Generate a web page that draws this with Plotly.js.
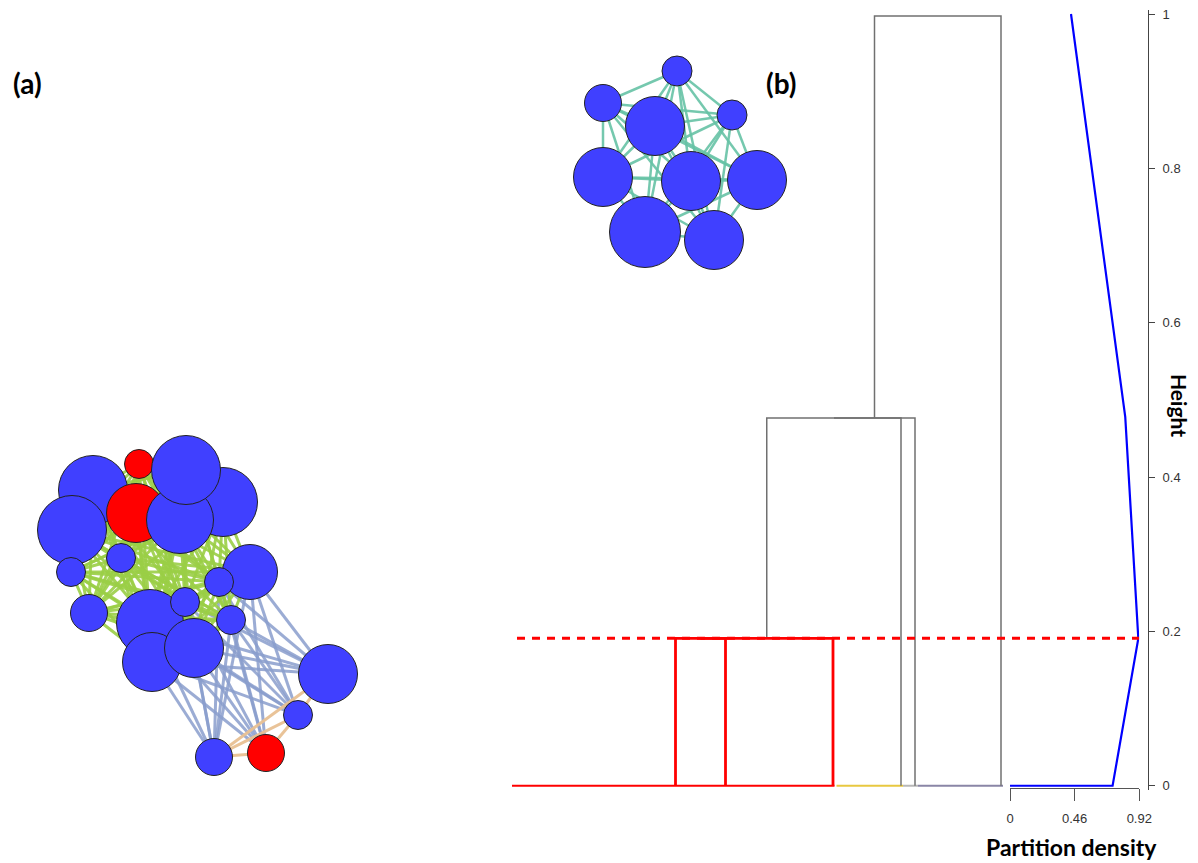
<!DOCTYPE html>
<html>
<head>
<meta charset="utf-8">
<script src="https://cdn.plot.ly/plotly-3.0.1.min.js"></script>
<style>html,body{margin:0;padding:0;background:#fff;}#chart{width:1198px;height:863px;}</style>
</head>
<body>
<div id="chart"></div>
<script>
// ---------- Network (a): nodes, listed back-to-front ----------
const netA_id    = [2, 7, 1, 5, 4, 6, 3, 8, 9, 10, 11, 12, 14, 13, 15, 16, 17, 18, 19, 20, 21];
const netA_x     = [93, 72, 139, 136, 223, 180, 186, 121, 71, 250, 219, 89, 150, 185, 231, 152, 194, 328, 298, 266, 214];
const netA_y     = [490, 530, 464, 513, 502, 520, 470, 558, 572, 572, 582, 613, 623, 602, 620, 662, 648, 674, 715, 753, 757];
const netA_size  = [69, 69, 29, 59, 69, 67, 69, 29, 29, 55, 29, 37, 67, 29, 29, 59, 59, 59, 29, 37, 37];
const netA_group = ['b','b','r','r','b','b','b','b','b','b','b','b','b','b','b','b','b','b','b','r','b'];

// green community edges (node ids)
const greenEdges = [
 [1,2],[1,3],[1,4],[1,5],[1,6],[1,7],[1,8],[1,9],[1,10],[1,12],[1,13],[1,14],[1,15],[1,17],
 [2,3],[2,4],[2,5],[2,6],[2,7],[2,8],[2,9],[2,11],[2,12],[2,13],[2,14],[2,15],[2,16],[2,17],
 [3,4],[3,5],[3,6],[3,7],[3,8],[3,9],[3,10],[3,11],[3,12],[3,13],[3,14],[3,15],[3,16],
 [4,5],[4,6],[4,7],[4,8],[4,9],[4,10],[4,11],[4,12],[4,13],[4,14],[4,15],[4,17],
 [5,6],[5,7],[5,8],[5,9],[5,10],[5,11],[5,12],[5,13],[5,14],[5,16],[5,17],
 [6,7],[6,8],[6,9],[6,10],[6,11],[6,12],[6,13],[6,14],[6,15],[6,16],[6,17],
 [7,8],[7,9],[7,10],[7,11],[7,12],[7,13],[7,14],[7,15],[7,17],
 [8,9],[8,10],[8,11],[8,12],[8,13],[8,14],[8,15],[8,16],[8,17],
 [9,10],[9,11],[9,12],[9,13],[9,14],[9,15],[9,16],[9,17],
 [10,11],[10,12],[10,13],[10,14],[10,15],[10,16],[10,17],
 [11,12],[11,13],[11,14],[11,15],[11,16],[11,17],
 [12,13],[12,14],[12,15],[12,16],[12,17],
 [13,14],[13,15],[13,16],[13,17],[14,15],[14,17],[15,16],[15,17],[16,17]
];
// between-community edges
const bridgeEdges = [
 [18,10],[18,11],[18,13],[18,14],[18,15],[18,16],[18,17],
 [19,10],[19,11],[19,13],[19,14],[19,15],[19,16],[19,17],
 [20,10],[20,11],[20,13],[20,14],[20,15],[20,16],[20,17],
 [21,10],[21,11],[21,13],[21,14],[21,15],[21,16],[21,17]
];
// small community edges
const tanEdges = [[21,20],[21,19],[21,18],[20,19],[19,18]];

// ---------- Inset network (b) ----------
const netB_id   = [1, 2, 3, 4, 5, 6, 7, 8, 9];
const netB_x    = [677, 603, 732, 655, 603, 691, 757, 645, 714];
const netB_y    = [71, 103, 115, 126, 177, 181, 180, 232, 240];
const netB_size = [30, 37, 30, 59, 59, 59, 59, 71, 59];
const tealEdges = [
 [1,2],[1,3],[1,4],[1,5],[1,6],[1,7],[1,8],[1,9],
 [2,3],[2,4],[2,5],[2,6],[2,7],[2,8],[2,9],
 [3,4],[3,5],[3,6],[3,7],[3,8],[3,9],
 [4,5],[4,6],[4,7],[4,8],[4,9],
 [5,6],[5,7],[5,8],[5,9],
 [6,7],[6,8],[6,9],
 [7,8],[7,9],[8,9]
];

// ---------- Dendrogram (b) ----------
const linkLeftX     = [35.1, 40.1, 53.35, 66.8, 74.9];
const linkRightX    = [45.1, 66.6, 80.2, 83.0, 100.2];
const linkLeftBase  = [0, 0.191, 0.191, 0.4765, 0.4765];
const linkRightBase = [0, 0, 0, 0, 0];
const linkHeight    = [0.191, 0.191, 0.4765, 0.4765, 0.9974];
const linkInCut     = [true, true, false, false, false];
const clusterStart  = [2.4, 67.3, 80.6, 83.6];
const clusterEnd    = [66.9, 80.6, 83.6, 100.6];
const cutHeight = 0.191;

// ---------- Partition density ----------
const densityX = [0, 0.73, 0.913, 0.82, 0.434];
const densityY = [0, 0, 0.191, 0.478, 1.0];
const heightTicks = [0, 0.2, 0.4, 0.6, 0.8, 1];
const heightTickText = ['0', '0.2', '0.4', '0.6', '0.8', '1'];
const densityTicks = [0, 0.46, 0.92];
const densityTickText = ['0', '0.46', '0.92'];

// ---------- build traces ----------
function edgeTrace(edges, ids, xs, ys, color, width) {
  const ex = [], ey = [];
  edges.forEach(([a, b]) => {
    const ia = ids.indexOf(a), ib = ids.indexOf(b);
    ex.push(xs[ia], xs[ib], null);
    ey.push(ys[ia], ys[ib], null);
  });
  return {x: ex, y: ey, xaxis: 'x', yaxis: 'y', type: 'scatter', mode: 'lines',
          line: {color: color, width: width}, hoverinfo: 'skip'};
}
const blueNode = '#4040ff', redNode = '#ff0000';
const traces = [];
traces.push(edgeTrace(bridgeEdges, netA_id, netA_x, netA_y, 'rgba(138,158,204,0.85)', 3));
traces.push(edgeTrace(greenEdges, netA_id, netA_x, netA_y, 'rgba(154,206,70,0.9)', 3));
traces.push(edgeTrace(tanEdges, netA_id, netA_x, netA_y, 'rgba(232,192,146,0.95)', 3));
traces.push({x: netA_x, y: netA_y, xaxis: 'x', yaxis: 'y', type: 'scatter', mode: 'markers',
  marker: {size: netA_size, color: netA_group.map(g => g === 'r' ? redNode : blueNode),
           line: {color: '#222', width: 1}, opacity: 1}, hoverinfo: 'skip'});
traces.push(edgeTrace(tealEdges, netB_id, netB_x, netB_y, 'rgba(102,194,165,0.9)', 2.5));
traces.push({x: netB_x, y: netB_y, xaxis: 'x', yaxis: 'y', type: 'scatter', mode: 'markers',
  marker: {size: netB_size, color: blueNode, line: {color: '#222', width: 1}, opacity: 1},
  hoverinfo: 'skip'});

// dendrogram bottom cluster lines
const clusterColors = ['#ff0000', '#e8c840', '#b8b8b8', '#8a86a6'];
clusterStart.forEach((s, i) => {
  traces.push({x: [s, clusterEnd[i]], y: [0, 0], xaxis: 'x2', yaxis: 'y2', type: 'scatter',
    mode: 'lines', line: {color: clusterColors[i], width: i === 0 ? 2 : 2.2}, hoverinfo: 'skip'});
});
// dendrogram links (grey first, red on top)
[false, true].forEach(flag => {
  linkLeftX.forEach((lx, i) => {
    if (linkInCut[i] !== flag) return;
    traces.push({x: [lx, lx, linkRightX[i], linkRightX[i]],
      y: [linkLeftBase[i], linkHeight[i], linkHeight[i], linkRightBase[i]],
      xaxis: 'x2', yaxis: 'y2', type: 'scatter', mode: 'lines',
      line: {color: flag ? '#ff0000' : '#707070', width: flag ? 2.8 : 1.5}, hoverinfo: 'skip'});
  });
});
// partition density
traces.push({x: densityX, y: densityY, xaxis: 'x3', yaxis: 'y2', type: 'scatter', mode: 'lines',
  line: {color: '#0000ff', width: 2.2}, hoverinfo: 'skip', cliponaxis: false});

const W = 1198, H = 863;
const hidden = {visible: false, showgrid: false, zeroline: false, fixedrange: true};
const titleFont = 'Lato, Open Sans, sans-serif';
const layout = {
  width: W, height: H,
  margin: {l: 0, r: 0, t: 0, b: 0},
  paper_bgcolor: '#fff', plot_bgcolor: 'rgba(0,0,0,0)',
  showlegend: false,
  xaxis: Object.assign({domain: [0, 1], range: [0, W]}, hidden),
  yaxis: Object.assign({domain: [0, 1], range: [H, 0]}, hidden),
  xaxis2: Object.assign({domain: [500 / W, 1010 / W], range: [0, 102], anchor: 'y2'}, hidden),
  yaxis2: {
    domain: [0.08505, 0.98825], range: [-0.005, 1.005], anchor: 'free', position: 1148 / W,
    side: 'right', showgrid: false, zeroline: false, showline: true, linecolor: '#444', linewidth: 1,
    ticks: 'outside', ticklen: 6, tickwidth: 1, tickcolor: '#444',
    tickvals: heightTicks, ticktext: heightTickText, ticklabelstandoff: 5,
    tickfont: {family: 'Liberation Sans, Arial, sans-serif', size: 13, color: '#333'}
  },
  xaxis3: {
    domain: [1010 / W, 1139.3 / W], range: [0, 0.92], anchor: 'free', position: (H - 788) / H,
    showgrid: false, zeroline: false, showline: true, linecolor: '#555', linewidth: 1,
    ticks: 'outside', ticklen: 12, tickwidth: 1, tickcolor: '#555',
    tickvals: densityTicks, ticktext: densityTickText, ticklabelstandoff: 6,
    tickfont: {family: 'Liberation Sans, Arial, sans-serif', size: 13, color: '#333'}
  },
  shapes: [{
    type: 'line', xref: 'paper', yref: 'y2', x0: 517 / W, x1: 1139 / W, y0: cutHeight, y1: cutHeight,
    line: {color: '#ff0000', width: 3, dash: '8px,7px'}, layer: 'above'
  }],
  annotations: [
    {text: '<b>(a)</b>', xref: 'paper', yref: 'paper', x: 27 / W, y: 1 - 83 / H,
     xanchor: 'center', yanchor: 'middle', showarrow: false,
     font: {family: titleFont, size: 28, color: '#000'}},
    {text: '<b>(b)</b>', xref: 'paper', yref: 'paper', x: 781 / W, y: 1 - 83 / H,
     xanchor: 'center', yanchor: 'middle', showarrow: false,
     font: {family: titleFont, size: 28, color: '#000'}},
    {text: '<b>Height</b>', xref: 'paper', yref: 'paper', x: 1180 / W, y: 1 - 405 / H,
     xanchor: 'center', yanchor: 'middle', showarrow: false, textangle: 90,
     font: {family: titleFont, size: 21, color: '#000'}},
    {text: '<b>Partition density</b>', xref: 'paper', yref: 'paper', x: 1071 / W, y: 1 - 847 / H,
     xanchor: 'center', yanchor: 'middle', showarrow: false,
     font: {family: titleFont, size: 23, color: '#000'}}
  ]
};
Plotly.newPlot('chart', traces, layout, {staticPlot: true, displayModeBar: false});
</script>
</body>
</html>
